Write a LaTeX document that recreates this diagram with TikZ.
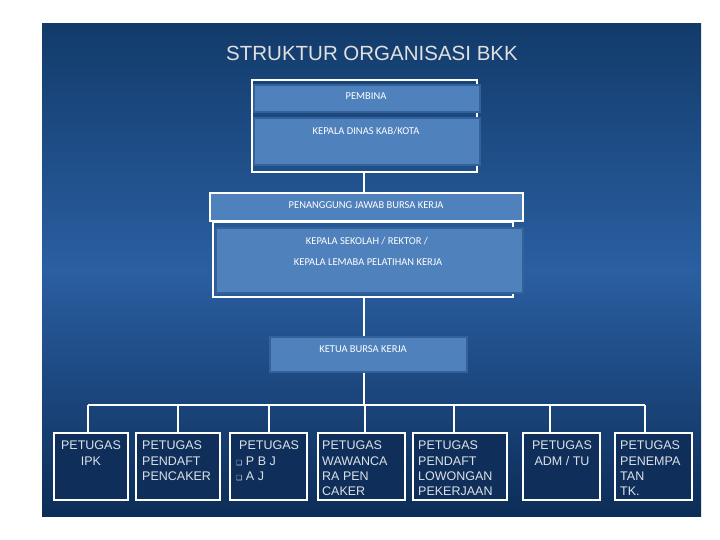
\documentclass[tikz,border=0pt]{standalone}
\usepackage{fontspec}
\setmainfont{Liberation Sans}
\newfontfamily\boxfont{Carlito}
\newfontfamily\symfont{DejaVu Sans}
\usetikzlibrary{positioning}
\definecolor{slidetop}{HTML}{123B6A}
\definecolor{slidemid}{HTML}{2A5FA2}
\definecolor{slidebot}{HTML}{0C2D57}
\definecolor{boxblue}{HTML}{4F81BD}
\definecolor{boxedge}{HTML}{34619A}
\definecolor{staffnavy}{HTML}{0F2F5A}
\definecolor{stafftext}{HTML}{DCE1E8}
\tikzset{
  upbox/.style={fill=boxblue,draw=boxedge,line width=1.5pt,inner sep=0pt},
  uptext/.style={font=\boxfont\fontsize{10.5}{12}\selectfont,text=white,inner sep=0pt},
  bracket/.style={draw=white,line width=2.5pt,inner sep=0pt},
  staffbox/.style={fill=staffnavy,draw=white,line width=2pt,inner sep=0pt,minimum height=67},
  stafftxt/.style={font=\fontsize{12.5}{15.3}\selectfont,text=stafftext,inner sep=0pt,anchor=north west},
  link/.style={draw=white,line width=2pt}
}
\newcommand{\sq}{{\symfont\fontsize{7}{7}\selectfont ❑}}
\begin{document}
\begin{tikzpicture}[x=1pt,y=-1pt]
\useasboundingbox (0,0) rectangle (720,540);
\shade[top color=slidetop,bottom color=slidebot,middle color=slidemid] (42,24) rectangle (701,516);
\node[font=\fontsize{20.5}{22}\selectfont,text=white!88!black] (title) at (372,53) {STRUKTUR ORGANISASI BKK};

\node[bracket,minimum width=225,minimum height=92] (frametop) at (364.5,126) {};
\node[upbox,minimum width=226,minimum height=27] (pembina) at (367,98.5) {};
\node[uptext] (pembinatext) at (366,96) {PEMBINA};
\node[upbox,minimum width=226,minimum height=47] (dinas) at (367,141.5) {};
\node[uptext] (dinastext) at (366,131) {KEPALA DINAS KAB/KOTA};

\node[upbox,draw=white,line width=2.5pt,minimum width=313,minimum height=28] (pj) at (366.5,207) {};
\node[uptext] (pjtext) at (366,205) {PENANGGUNG JAWAB BURSA KERJA};
\node[bracket,minimum width=300,minimum height=75] (framemid) at (363,259.5) {};
\node[upbox,minimum width=307,minimum height=65] (kepsek) at (369.5,260.5) {};
\node[uptext] (kepsektext) at (367,241) {KEPALA SEKOLAH / REKTOR /};
\node[uptext] (lembagatext) at (368,262) {KEPALA LEMABA PELATIHAN KERJA};

\node[upbox,minimum width=197,minimum height=35] (ketua) at (368.5,354.5) {};
\node[uptext] (ketuatext) at (363,349) {KETUA BURSA KERJA};

\coordinate (spine) at (364,0);
\draw[link,line width=2.5pt] (frametop.south -| spine) -- (pj.north -| spine);
\draw[link,line width=2.5pt] (framemid.south -| spine) -- (ketua.north -| spine);

\node[staffbox,minimum width=74] (ipk) at (91,466.5) {};
\node[staffbox,minimum width=84] (pencaker) at (178,466.5) {};
\node[staffbox,minimum width=77] (pbj) at (268.5,466.5) {};
\node[staffbox,minimum width=87] (wawancara) at (361.5,466.5) {};
\node[staffbox,minimum width=94] (lowongan) at (460,466.5) {};
\node[staffbox,minimum width=77] (admtu) at (561.5,466.5) {};
\node[staffbox,minimum width=77] (penempatan) at (653.5,466.5) {};

\node[stafftxt,anchor=north,align=center] (ipktext) at (91,441) {PETUGAS\\IPK};
\node[stafftxt,align=left] (pencakertext) at (142,441) {PETUGAS\\PENDAFT\\PENCAKER};
\node[stafftxt,align=left] (pbjtext) at (236,441) {\hspace*{3pt}PETUGAS\\\sq\ P B J\\\sq\ A J};
\node[stafftxt,align=left] (wawancaratext) at (322,441) {PETUGAS\\WAWANCA\\RA PEN\\CAKER};
\node[stafftxt,align=left] (lowongantext) at (418,441) {PETUGAS\\PENDAFT\\LOWONGAN\\PEKERJAAN};
\node[stafftxt,anchor=north,align=center] (admtutext) at (562,441) {PETUGAS\\ADM / TU};
\node[stafftxt,align=left] (penempatantext) at (620,441) {PETUGAS\\PENEMPA\\TAN\\TK.};

\coordinate (d1) at (88,405);
\coordinate (d2) at (178,405);
\coordinate (d3) at (269,405);
\coordinate (d4) at (365,405);
\coordinate (d5) at (454,405);
\coordinate (d6) at (550,405);
\coordinate (d7) at (645,405);
\draw[link] (ketua.south -| spine) -- (spine |- d1);
\draw[link] (d1) -- (d7);
\draw[link] (d1) -- (d1 |- ipk.north);
\draw[link] (d2) -- (d2 |- pencaker.north);
\draw[link] (d3) -- (d3 |- pbj.north);
\draw[link] (d4) -- (d4 |- wawancara.north);
\draw[link] (d5) -- (d5 |- lowongan.north);
\draw[link] (d6) -- (d6 |- admtu.north);
\draw[link] (d7) -- (d7 |- penempatan.north);
\end{tikzpicture}
\end{document}
